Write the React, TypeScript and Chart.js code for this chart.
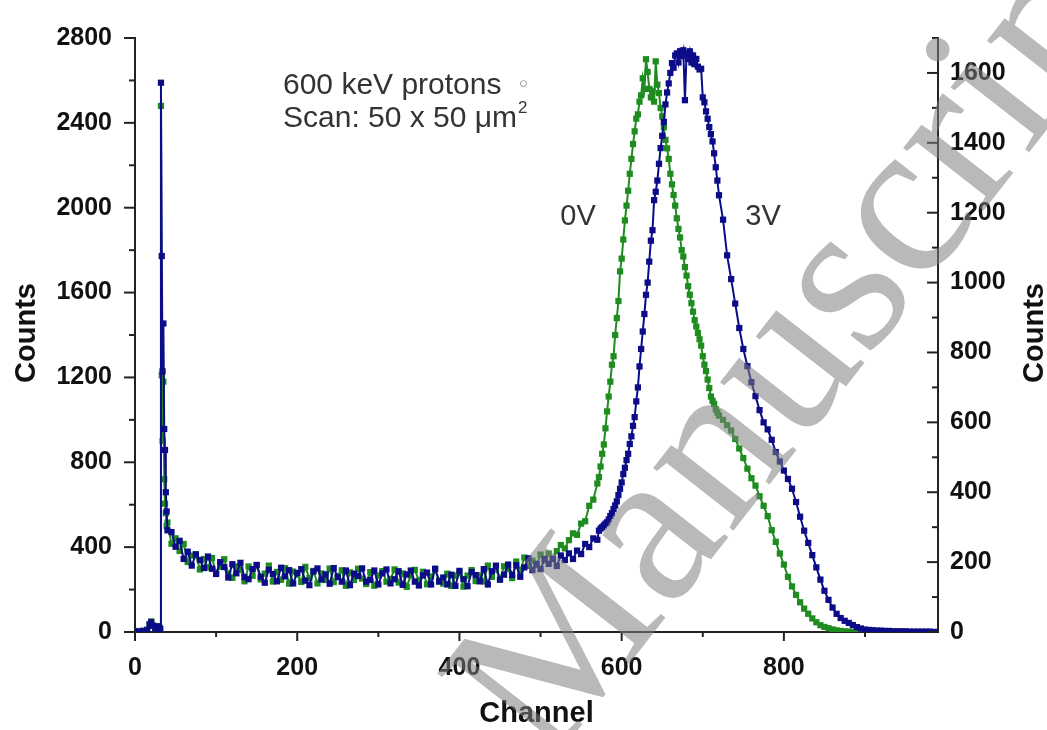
import { useEffect, useRef } from "react"
import { Chart, registerables } from "chart.js"

Chart.register(...registerables)

// channel numbers (shared by both spectra)
const channels = [
  0, 5, 10, 15, 18, 20, 22, 25, 28, 30, 31, 32, 33, 34, 35, 36, 37, 38, 39,
  40, 45, 50, 55, 60, 65, 70, 75, 80, 85,
  90, 95, 100, 105, 110, 115, 120, 125, 130, 135,
  140, 145, 150, 155, 160, 165, 170, 175, 180, 185,
  190, 195, 200, 205, 210, 215, 220, 225, 230, 235,
  240, 245, 250, 255, 260, 265, 270, 275, 280, 285,
  290, 295, 300, 305, 310, 315, 320, 325, 330, 335,
  340, 345, 350, 355, 360, 365, 370, 375, 380, 385,
  390, 395, 400, 405, 410, 415, 420, 425, 430, 435,
  440, 445, 450, 455, 460, 465, 470, 475, 480, 485,
  490, 495, 500, 505, 510, 515, 520, 525, 530, 535,
  540, 545, 550, 555, 560, 565, 570,
  572, 574, 576, 578, 580, 582, 584, 586, 588, 590,
  592, 594, 596, 598, 600, 602, 604, 606, 608, 610,
  612, 614, 616, 618, 620, 622, 624, 626, 628, 630,
  632, 634, 636, 638, 640, 642, 644, 646, 648, 650,
  652, 654, 656, 658, 660, 662, 664, 666, 668, 670,
  672, 674, 676, 678, 680, 682, 684, 686, 688, 690,
  692, 694, 696, 698, 700, 702, 704, 706, 708, 710,
  712, 714, 716, 718, 720,
  725, 730, 735, 740, 745, 750, 755, 760, 765, 770,
  775, 780, 785, 790, 795, 800, 805, 810, 815, 820,
  825, 830, 835, 840, 845, 850, 855, 860, 865, 870,
  875, 880, 885, 890, 895, 900, 905, 910, 915, 920,
  925, 930, 935, 940, 945, 950, 955, 960, 965, 970,
  975, 980, 985, 990,
]

// 0V spectrum, left axis counts
const counts0V = [
  5, 4, 6, 10, 35, 50, 30, 20, 28, 20, 15, 2480, 1210, 900, 1180, 720, 605, 560, 500,
  516, 416, 442, 382, 415, 330, 360, 367, 295, 344,
  304, 349, 279, 308, 343, 275, 255, 309, 294, 239,
  309, 265, 314, 248, 275, 313, 238, 283, 246, 301,
  228, 285, 271, 236, 307, 254, 288, 229, 276, 245,
  299, 235, 264, 291, 218, 281, 245, 298, 252, 226,
  282, 218, 266, 287, 237, 250, 295, 233, 276, 213,
  266, 293, 242, 284, 225, 261, 297, 243, 228, 275,
  217, 266, 281, 214, 266, 292, 240, 267, 238, 313,
  260, 296, 247, 310, 297, 254, 332, 290, 351, 312,
  336, 315, 365, 339, 370, 346, 381, 410, 394, 433,
  465, 458, 511, 522, 595, 624, 700,
  730, 780, 840, 884, 960, 1040, 1110, 1180, 1260, 1300,
  1400, 1480, 1560, 1700, 1760, 1850, 1940, 2010, 2080, 2160,
  2230, 2300, 2360, 2420, 2440, 2500, 2530, 2610, 2560, 2700,
  2640, 2560, 2520, 2550, 2500, 2690, 2580, 2540, 2470, 2430,
  2380, 2320, 2280, 2230, 2160, 2110, 2060, 2010, 1950, 1900,
  1860, 1800, 1770, 1720, 1680, 1630, 1590, 1550, 1510, 1470,
  1440, 1410, 1380, 1350, 1300, 1260, 1230, 1190, 1150, 1110,
  1090, 1075, 1050, 1035, 1020,
  1000, 975, 950, 910, 865, 820, 770, 725, 690, 640,
  595, 546, 480, 425, 370, 318, 260, 215, 175, 140,
  110, 86, 64, 46, 32, 24, 18, 12, 8, 5,
  3, 2, 1, 1, 1, 0, 0, 0, 0, 0,
  0, 0, 0, 0, 0, 0, 0, 0, 0, 0,
  0, 0, 0, 0,
]

// 3V spectrum, right axis counts
const counts3V = [
  2, 1, 3, 6, 22, 28, 18, 10, 16, 12, 8, 1572, 1076, 746, 883, 581, 521, 400, 345,
  291, 286, 244, 261, 209, 230, 190, 222, 206, 183,
  216, 181, 166, 200, 186, 156, 194, 168, 198, 157,
  151, 180, 192, 158, 141, 178, 166, 145, 184, 159,
  177, 139, 169, 180, 147, 134, 173, 182, 150, 165,
  138, 183, 157, 144, 176, 134, 167, 160, 182, 144,
  149, 176, 136, 168, 179, 139, 151, 174, 135, 165,
  176, 144, 133, 162, 170, 136, 181, 144, 156, 136,
  164, 132, 175, 151, 131, 172, 163, 145, 180, 136,
  174, 190, 150, 164, 193, 163, 191, 158, 185, 211,
  177, 195, 180, 209, 195, 209, 189, 219, 206, 225,
  209, 233, 223, 252, 243, 268, 264,
  290, 296, 300, 305, 310, 314, 322, 332, 340, 352,
  362, 374, 392, 410, 428, 452, 470, 492, 510, 538,
  560, 590, 615, 660, 700, 760, 810, 860, 910, 965,
  1000, 1060, 1120, 1150, 1236, 1260, 1292, 1340, 1385, 1420,
  1460, 1510, 1544, 1570, 1600, 1628, 1615, 1650, 1656, 1630,
  1662, 1648, 1665, 1522, 1655, 1640, 1662, 1630, 1650, 1625,
  1640, 1618, 1610, 1612, 1530, 1516, 1490, 1469, 1445, 1425,
  1404, 1370, 1330, 1292, 1250,
  1180, 1078, 1010, 940, 870, 810, 761, 715, 675, 635,
  600, 580, 550, 515, 488, 462, 438, 410, 372, 330,
  290, 255, 220, 185, 150, 118, 92, 70, 52, 40,
  32, 26, 20, 14, 10, 7, 6, 5, 4, 4,
  3, 3, 2, 2, 2, 2, 1, 1, 1, 1,
  1, 1, 0, 0,
]

const xTicks = [0, 200, 400, 600, 800]
const xMinorTicks = [100, 300, 500, 700, 900]
const leftTicks = [0, 400, 800, 1200, 1600, 2000, 2400, 2800]
const leftMinorTicks = [200, 600, 1000, 1400, 1800, 2200, 2600]
const rightTicks = [0, 200, 400, 600, 800, 1000, 1200, 1400, 1600]
const rightMinorTicks = [100, 300, 500, 700, 900, 1100, 1300, 1500, 1700]

const GREEN = "#1f8c1f"
const NAVY = "#0c0c88"
const AXIS = "#222222"
const SANS = "'Liberation Sans', Arial, Helvetica, sans-serif"

const overlay = {
  id: "overlay",
  afterDraw(chart: any) {
    const { ctx } = chart
    const xs = chart.scales.x
    const yl = chart.scales.y
    const yr = chart.scales.y1

    ctx.save()
    ctx.strokeStyle = AXIS
    ctx.lineWidth = 2
    const seg = (x1: number, y1: number, x2: number, y2: number) => {
      ctx.beginPath()
      ctx.moveTo(x1, y1)
      ctx.lineTo(x2, y2)
      ctx.stroke()
    }

    // tick marks
    xTicks.forEach((v) => {
      const px = xs.getPixelForValue(v)
      seg(px, xs.top, px, xs.top + 9)
    })
    xMinorTicks.forEach((v) => {
      const px = xs.getPixelForValue(v)
      seg(px, xs.top, px, xs.top + 5)
    })
    leftTicks.forEach((v) => {
      const py = yl.getPixelForValue(v)
      seg(yl.right, py, yl.right - 11, py)
    })
    leftMinorTicks.forEach((v) => {
      const py = yl.getPixelForValue(v)
      seg(yl.right, py, yl.right - 6, py)
    })
    rightTicks.forEach((v) => {
      const py = yr.getPixelForValue(v)
      seg(yr.left, py, yr.left - 11, py)
    })
    rightMinorTicks.forEach((v) => {
      const py = yr.getPixelForValue(v)
      seg(yr.left, py, yr.left - 6, py)
    })

    // axis titles
    ctx.fillStyle = "#111"
    ctx.font = `bold 29px ${SANS}`
    ctx.textAlign = "center"
    ctx.textBaseline = "middle"
    ctx.fillText("Channel", (xs.left + xs.right) / 2, 714)

    ctx.save()
    ctx.translate(27, 333)
    ctx.rotate(-Math.PI / 2)
    ctx.fillText("Counts", 0, 0)
    ctx.restore()

    ctx.save()
    ctx.translate(1035, 333)
    ctx.rotate(-Math.PI / 2)
    ctx.fillText("Counts", 0, 0)
    ctx.restore()

    // annotations
    ctx.fillStyle = "#333"
    ctx.font = `30px ${SANS}`
    ctx.textAlign = "left"
    ctx.fillText("600 keV protons", 283, 86)
    const line2 = "Scan: 50 x 50 \u03bcm"
    ctx.fillText(line2, 283, 119)
    const w2 = ctx.measureText(line2).width
    ctx.font = `17px ${SANS}`
    ctx.fillText("2", 283 + w2 + 1, 108)
    ctx.fillStyle = "#888"
    ctx.font = `15px ${SANS}`
    ctx.fillText("\u25cb", 519, 84)

    ctx.fillStyle = "#333"
    ctx.font = `29px ${SANS}`
    ctx.textAlign = "center"
    ctx.fillText("0V", 578, 217)
    ctx.fillText("3V", 763, 217)

    // watermark
    ctx.save()
    ctx.translate(548, 768)
    ctx.rotate((-52 * Math.PI) / 180)
    ctx.font = "222px 'Liberation Serif', 'Times New Roman', serif"
    ctx.fillStyle = "rgba(128,128,128,0.55)"
    ctx.textAlign = "left"
    ctx.textBaseline = "alphabetic"
    ctx.fillText("Manuscript", 0, 0)
    ctx.restore()

    ctx.restore()
  },
}

export default function App() {
  const chartRef = useRef<HTMLCanvasElement>(null)
  const chartInstance = useRef<Chart | null>(null)

  useEffect(() => {
    document.body.style.margin = "0"
    if (!chartRef.current) return
    const ctx = chartRef.current.getContext("2d")
    if (!ctx) return

    if (chartInstance.current) {
      chartInstance.current.destroy()
    }

    const tickFont = { family: SANS, size: 25, weight: "bold" as const }

    chartInstance.current = new Chart(ctx, {
      type: "line",
      data: {
        datasets: [
          {
            label: "3V",
            data: channels.map((c, i) => ({ x: c, y: counts3V[i] })),
            yAxisID: "y1",
            borderColor: NAVY,
            backgroundColor: NAVY,
            borderWidth: 2,
            pointStyle: "rect",
            pointRadius: 4.4,
            pointBorderWidth: 0,
            pointBackgroundColor: NAVY,
          },
          {
            label: "0V",
            data: channels.map((c, i) => ({ x: c, y: counts0V[i] })),
            yAxisID: "y",
            borderColor: GREEN,
            backgroundColor: GREEN,
            borderWidth: 2,
            pointStyle: "rect",
            pointRadius: 4.4,
            pointBorderWidth: 0,
            pointBackgroundColor: GREEN,
          },
        ],
      },
      options: {
        animation: false,
        responsive: true,
        maintainAspectRatio: false,
        layout: { padding: { top: 24, left: 0, right: 0, bottom: 0 } },
        plugins: {
          legend: { display: false },
          tooltip: { enabled: false },
        },
        scales: {
          x: {
            type: "linear",
            min: 0,
            max: 990,
            grid: { display: false, drawTicks: false },
            border: { display: true, color: AXIS, width: 2 },
            ticks: { font: tickFont, color: "#111", padding: 21, callback: (v) => String(v) },
            afterBuildTicks: (s: any) => {
              s.ticks = xTicks.map((v) => ({ value: v }))
            },
            afterFit: (s: any) => {
              s.height = 98
            },
          },
          y: {
            type: "linear",
            position: "left",
            min: 0,
            max: 2800,
            grid: { display: false, drawTicks: false },
            border: { display: true, color: AXIS, width: 2 },
            ticks: { font: tickFont, color: "#111", padding: 23, callback: (v) => String(v) },
            afterBuildTicks: (s: any) => {
              s.ticks = leftTicks.map((v) => ({ value: v }))
            },
            afterFit: (s: any) => {
              s.width = 135
            },
          },
          y1: {
            type: "linear",
            position: "right",
            min: 0,
            max: 1700,
            grid: { display: false, drawTicks: false },
            border: { display: true, color: AXIS, width: 2 },
            ticks: { font: tickFont, color: "#111", padding: 12, callback: (v) => String(v) },
            afterBuildTicks: (s: any) => {
              s.ticks = rightTicks.map((v) => ({ value: v }))
            },
            afterFit: (s: any) => {
              s.width = 109
            },
          },
        },
      },
      plugins: [overlay],
    })

    return () => {
      if (chartInstance.current) {
        chartInstance.current.destroy()
        chartInstance.current = null
      }
    }
  }, [])

  return (
    <div style={{ width: 1047, height: 730, position: "relative", background: "#fff" }}>
      <canvas ref={chartRef} />
    </div>
  )
}
